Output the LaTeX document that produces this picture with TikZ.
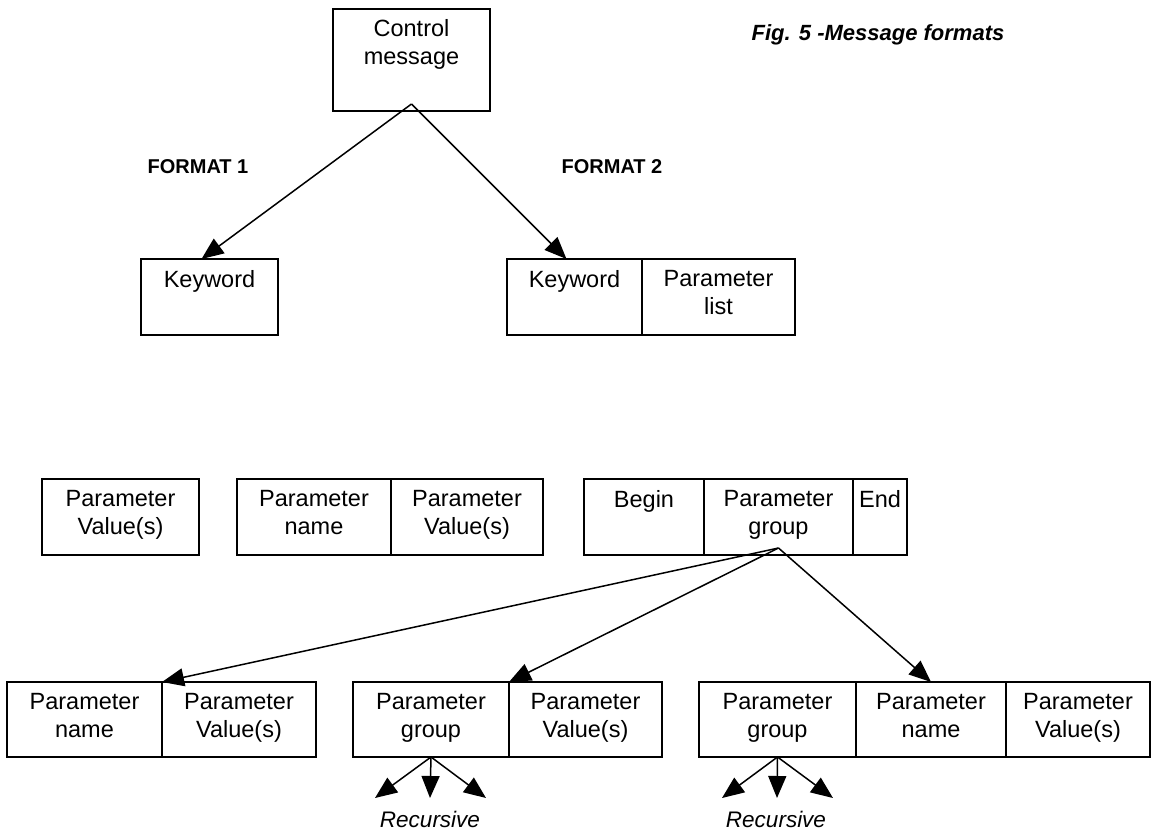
\documentclass[tikz,border=0pt]{standalone}
\usepackage{fontspec}
\setmainfont{Liberation Sans}
\usetikzlibrary{arrows.meta}

\begin{document}
\begin{tikzpicture}[x=1pt,y=-1pt,
    cell/.style={draw, line width=1.5pt, inner sep=0pt, outer sep=0pt, anchor=north west,
      minimum height=76pt, align=center, font=\fontsize{23.5}{28}\selectfont,
      execute at begin node=\strut, execute at end node=\strut},
    link/.style={-{Triangle[length=22pt,width=18pt]}, line width=1.5pt},
    lbl/.style={font=\fontsize{20}{24}\selectfont\bfseries}]
      \useasboundingbox (0,0) rectangle (1159,832);
      % title and format labels
      \node[lbl, font=\fontsize{22}{26}\selectfont\bfseries\itshape] (title) at (878,35) {Fig. 5 -Message formats};
      \node[lbl] (fmt1) at (198,167) {FORMAT 1};
      \node[lbl] (fmt2) at (612,167) {FORMAT 2};
      % top level
      \node[cell, minimum width=157pt, minimum height=102pt] (ctrl) at (333,9) {Control\\message\\~};
      \node[cell, minimum width=137pt] (kw1) at (141,259) {Keyword\\~};
      \node[cell, minimum width=135pt] (kw2) at (507,259) {Keyword\\~};
      \node[cell, minimum width=153pt] (plist) at (642,259) {Parameter\\list};
      \draw[link] ([yshift=7pt]ctrl.south) -- ([xshift=-8pt]kw1.north);
      \draw[link] ([yshift=7pt]ctrl.south) -- ([xshift=-8pt]kw2.north);
      % parameter list entries
      \node[cell, minimum width=157pt] (pval) at (42,479) {Parameter\\Value(s)};
      \node[cell, minimum width=154pt] (pname) at (237,479) {Parameter\\name};
      \node[cell, minimum width=152pt] (pnval) at (391,479) {Parameter\\Value(s)};
      \node[cell, minimum width=120pt] (begin) at (584,479) {Begin\\~};
      \node[cell, minimum width=149pt] (group) at (704,479) {Parameter\\group};
      \node[cell, minimum width=54pt] (end) at (853,479) {End\\~};
      % parameter group entries
      \node[cell, minimum width=155pt, minimum height=75pt] (gname) at (7,682) {Parameter\\name};
      \node[cell, minimum width=154pt, minimum height=75pt] (gval) at (162,682) {Parameter\\Value(s)};
      \node[cell, minimum width=156pt, minimum height=75pt] (sub1) at (353,682) {Parameter\\group};
      \node[cell, minimum width=153pt, minimum height=75pt] (sub1val) at (509,682) {Parameter\\Value(s)};
      \node[cell, minimum width=157pt, minimum height=75pt] (sub2) at (699,682) {Parameter\\group};
      \node[cell, minimum width=150pt, minimum height=75pt] (sub2name) at (856,682) {Parameter\\name};
      \node[cell, minimum width=144pt, minimum height=75pt] (sub2val) at (1006,682) {Parameter\\Value(s)};
      \draw[link] ([yshift=7pt]group.south) -- (gname.north east);
      \draw[link] ([yshift=7pt]group.south) -- (sub1.north east);
      \draw[link] ([yshift=7pt]group.south) -- (sub2name.north);
      % recursion marks
      \coordinate (r1l) at (375,798);
      \coordinate (r1m) at (430,798);
      \coordinate (r1r) at (486,798);
      \coordinate (r2l) at (722,798);
      \coordinate (r2m) at (777,798);
      \coordinate (r2r) at (833,798);
      \draw[link] (sub1.south) -- (r1l);
      \draw[link] (sub1.south) -- (r1m);
      \draw[link] (sub1.south) -- (r1r);
      \draw[link] (sub2.south) -- (r2l);
      \draw[link] (sub2.south) -- (r2m);
      \draw[link] (sub2.south) -- (r2r);
      \node[font=\fontsize{22.5}{28}\selectfont\itshape] (rec1) at (430,819) {Recursive};
      \node[font=\fontsize{22.5}{28}\selectfont\itshape] (rec2) at (776,819) {Recursive};
\end{tikzpicture}
\end{document}
